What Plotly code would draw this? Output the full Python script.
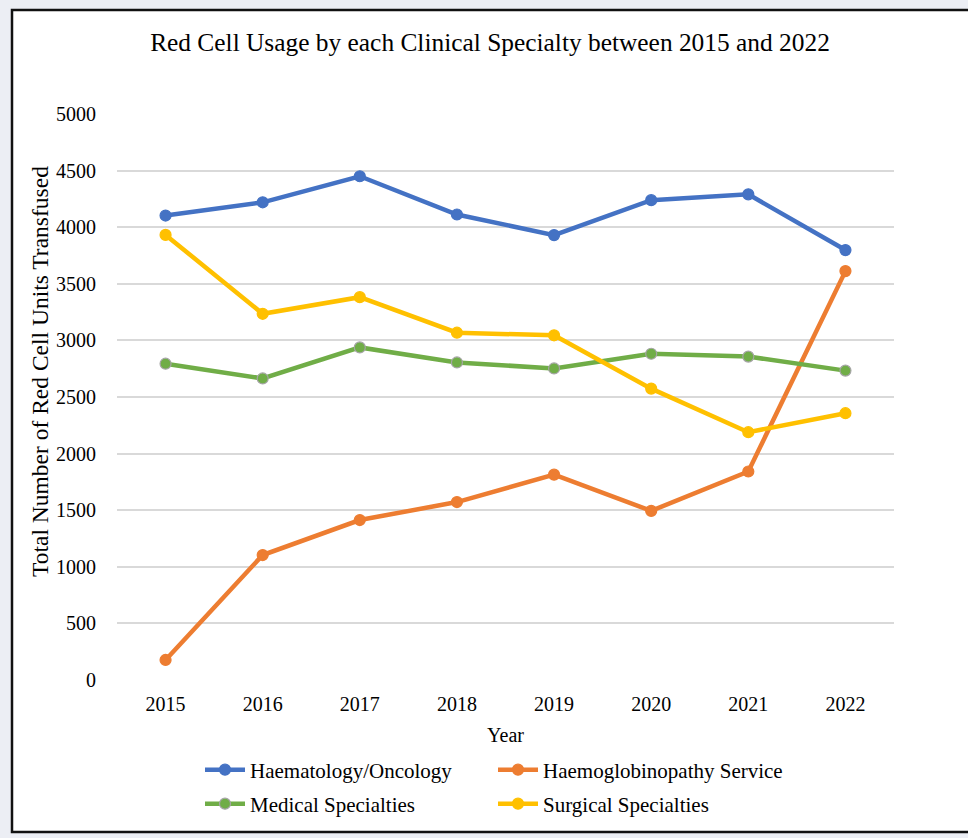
import plotly.graph_objects as go

years = ["2015", "2016", "2017", "2018", "2019", "2020", "2021", "2022"]
haematology = [4103, 4220, 4450, 4112, 3930, 4239, 4290, 3798]
haemoglobinopathy = [177, 1104, 1413, 1572, 1814, 1494, 1842, 3612]
medical = [2794, 2664, 2938, 2805, 2752, 2882, 2857, 2733]
surgical = [3932, 3235, 3382, 3068, 3045, 2574, 2189, 2357]

series = [
    ("Haematology/Oncology", haematology, "#4472C4", "#4472C4", "legend"),
    ("Haemoglobinopathy Service", haemoglobinopathy, "#ED7D31", "#ED7D31", "legend"),
    ("Medical Specialties", medical, "#70AD47", "#A5A5A5", "legend2"),
    ("Surgical Specialties", surgical, "#FFC000", "#FFC000", "legend2"),
]

W, H = 968, 838
L, R, T, B = 117, 74, 114, 158
pw, ph = W - L - R, H - T - B

def px(x):
    return (x - L) / pw

def py(y):
    return (H - B - y) / ph

fig = go.Figure()
for name, vals, col, edge, leg in series:
    fig.add_trace(go.Scatter(
        x=years, y=vals, name=name, mode="lines+markers", legend=leg,
        line=dict(color=col, width=4.5),
        marker=dict(color=col, size=11, line=dict(color=edge, width=1.2)),
    ))

font = "Liberation Serif, Times New Roman, serif"
legend_common = dict(orientation="h", xref="container", yref="container",
                     x=200 / W, xanchor="left", yanchor="middle",
                     entrywidth=238, entrywidthmode="pixels", itemwidth=40,
                     bgcolor="rgba(0,0,0,0)", font=dict(family=font, size=21),
                     traceorder="normal")
fig.update_layout(
    width=W, height=H,
    margin=dict(l=L, r=R, t=T, b=B, pad=0, autoexpand=False),
    paper_bgcolor="#eceef4",
    plot_bgcolor="rgba(0,0,0,0)",
    font=dict(family=font, size=20, color="#000000"),
    title=dict(text="Red Cell Usage by each Clinical Specialty between 2015 and 2022",
               x=490 / W, xref="container", xanchor="center",
               y=1 - 42 / H, yref="container", yanchor="middle",
               font=dict(family=font, size=25.4, color="#000000")),
    xaxis=dict(type="category", range=[-0.5, 7.5], showgrid=False, zeroline=False,
               showline=False, ticks="outside", ticklen=6, tickcolor="rgba(0,0,0,0)",
               tickfont=dict(size=20), automargin=False,
               title=dict(text="Year", standoff=13, font=dict(size=20))),
    yaxis=dict(range=[0, 5000], dtick=500, showgrid=True, gridcolor="#d9d9d9", gridwidth=1.5,
               zeroline=False, showline=False, ticks="outside", ticklen=16, automargin=False,
               tickcolor="rgba(0,0,0,0)", tickfont=dict(size=20)),
    showlegend=True,
    legend=dict(legend_common, y=1 - 770 / H),
    legend2=dict(legend_common, y=1 - 804 / H),
    shapes=[dict(type="rect", xref="paper", yref="paper", layer="below",
                 x0=px(12), x1=px(975), y0=py(832), y1=py(10),
                 line=dict(color="#111111", width=2.5), fillcolor="#ffffff")],
    annotations=[dict(text="Total Number of Red Cell Units Transfused", textangle=-90,
                      xref="paper", yref="paper", x=px(40), y=py(372),
                      xanchor="center", yanchor="middle", showarrow=False,
                      font=dict(family=font, size=23.5, color="#000000"))],
)

fig.write_html("out.html")
